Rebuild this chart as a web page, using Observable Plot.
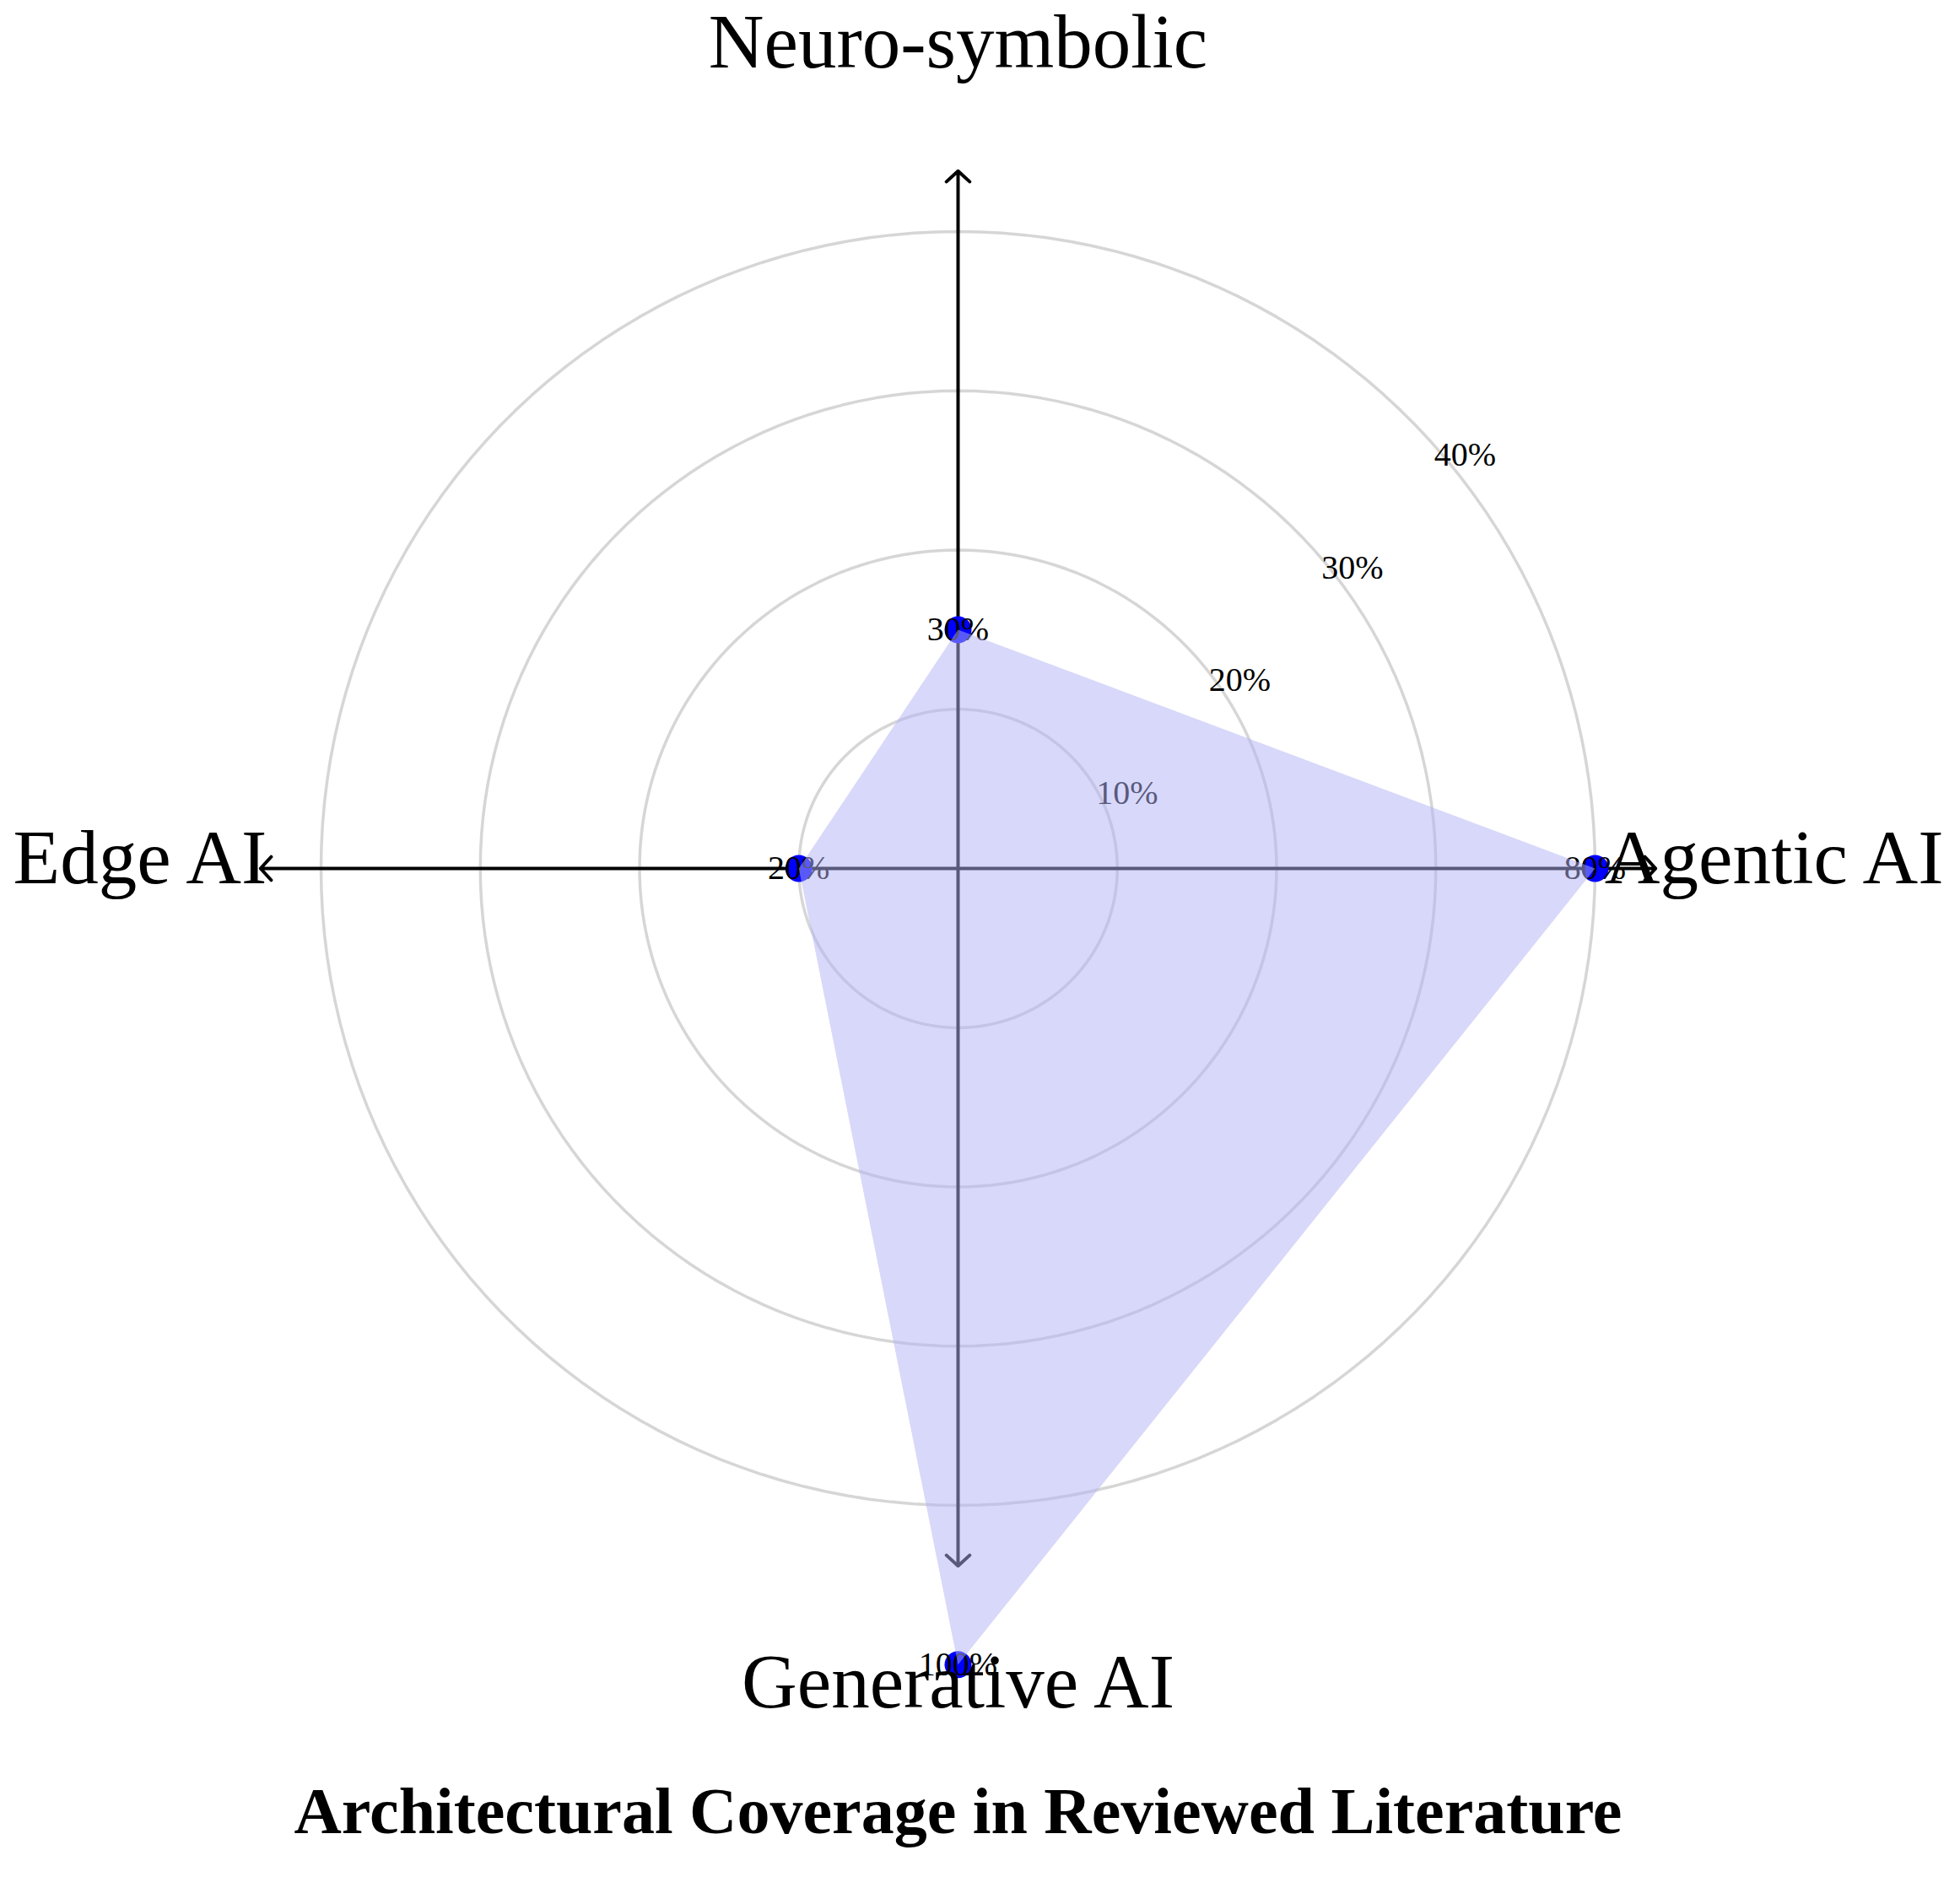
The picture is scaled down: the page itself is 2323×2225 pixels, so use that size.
<!DOCTYPE html>
<html><head><meta charset="utf-8">
<script src="https://cdn.jsdelivr.net/npm/d3@7"></script>
<script src="https://cdn.jsdelivr.net/npm/@observablehq/plot@0.6"></script>
<style>body{margin:0;background:#fff;} svg{display:block}</style>
</head><body><div id="chart"></div>
<script>
// ---- data ----
const categories = ["Neuro-symbolic", "Agentic AI", "Generative AI", "Edge AI"];
const values = [30, 80, 100, 20];          // % coverage (labels on points)
const ringTicks = [10, 20, 30, 40];        // radial grid tick labels
const title = "Architectural Coverage in Reviewed Literature";

// ---- layout ----
const W = 2323, H = 2225;
const cx = 1135, cy = 1029, unit = 18.875;   // centre and pixels per radial unit
const radiusFactor = 0.5;                    // reference draws values at half radius
const axisLen = 43.8;
const angleOf = i => Math.PI / 2 - i * Math.PI / 2;  // clockwise from top

const pts = categories.map((c, i) => {
  const r = values[i] * radiusFactor, a = angleOf(i);
  return {c, v: values[i], x: r * Math.cos(a), y: r * Math.sin(a)};
});
const rings = ringTicks.flatMap(t => d3.range(0, 361, 2).map(d => ({
  t, x: t * Math.cos(d * Math.PI / 180), y: t * Math.sin(d * Math.PI / 180)
})));
const axes = categories.map((c, i) => ({c, x2: axisLen * Math.cos(angleOf(i)), y2: axisLen * Math.sin(angleOf(i))}));

// axis label placement (baseline positions, in radial units)
const place = [
  {x: 0, y: 50.3, anchor: "middle"},
  {x: 40.6, y: -0.95, anchor: "start"},
  {x: 0, y: -52.7, anchor: "middle"},
  {x: -43.4, y: -0.95, anchor: "end"}
];
const axisLabels = categories.map((c, i) => ({c, ...place[i]}));
const diag = Math.SQRT1_2;

const font = "'Liberation Serif', 'DejaVu Serif', serif";

const chart = Plot.plot({
  width: W, height: H, margin: 0,
  x: {domain: [-cx / unit, (W - cx) / unit], axis: null},
  y: {domain: [-(H - cy) / unit, cy / unit], axis: null},
  style: {fontFamily: font, background: "white"},
  marks: [
    Plot.line(rings, {x: "x", y: "y", z: "t", stroke: "#d6d6d6", strokeWidth: 3.5}),
    Plot.text(ringTicks, {x: t => t * diag + 3.55, y: t => t * diag - 2.33, text: t => t + "%", fontSize: 40, fill: "black", lineAnchor: "middle"}),
    Plot.arrow(axes, {x1: () => 0, y1: () => 0, x2: "x2", y2: "y2", stroke: "black", strokeWidth: 4, headAngle: 95, headLength: 7}),
    Plot.dot(pts, {x: "x", y: "y", r: 16, fill: "#0000ff"}),
    Plot.text(pts, {x: "x", y: "y", text: d => d.v + "%", fontSize: 40, fill: "black", lineAnchor: "middle"}),
    Plot.line(pts, {x: "x", y: "y", fill: "#b2b2f6", fillOpacity: 0.5, stroke: "none", curve: "linear-closed"}),
    ...["middle", "start", "end"].map(a => Plot.text(axisLabels.filter(d => d.anchor === a), {
      x: "x", y: "y", text: "c", textAnchor: a, lineAnchor: "bottom", fontSize: 91, fill: "black"
    })),
    Plot.text([title], {x: () => 0, y: () => -60.6, text: d => d, fontSize: 78, fontWeight: "bold", lineAnchor: "bottom", fill: "black"})
  ]
});
document.getElementById("chart").appendChild(chart);
</script>
</body></html>
